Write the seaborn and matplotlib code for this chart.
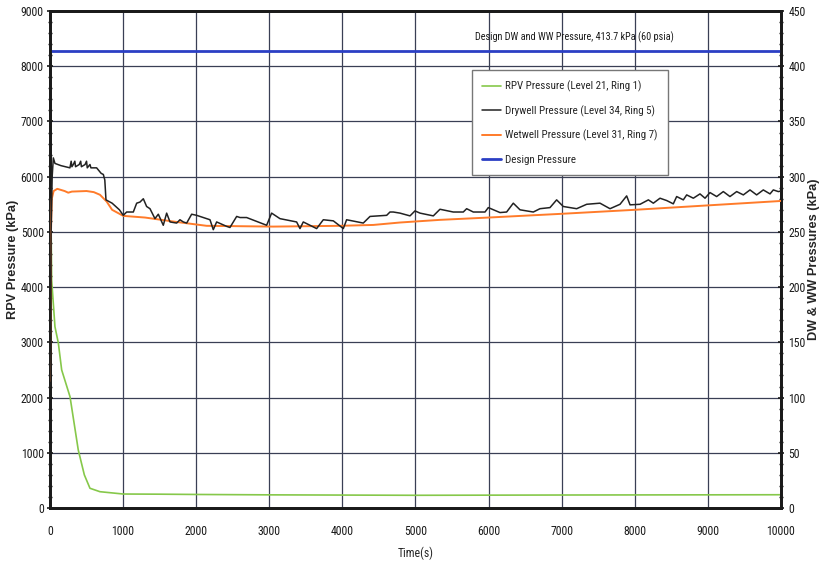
import matplotlib
matplotlib.use("Agg")
import matplotlib.pyplot as plt
from matplotlib import font_manager
import seaborn as sns
import pandas as pd
from matplotlib.ticker import MultipleLocator

# ---------------- data ----------------
rpv_t = [0, 23, 68, 114, 160, 274, 387, 470, 547, 684, 1003, 1500, 2000, 3000, 5000, 7000, 10000]
rpv_p = [7000, 4130, 3284, 2990, 2500, 2016, 1050, 600, 357, 295, 253, 250, 245, 238, 230, 235, 240]

dw_t = [0, 15, 30, 46, 68, 150, 273, 290, 300, 319, 340, 350, 400, 420, 430, 480, 500, 510, 547, 560,
        638, 700, 730, 750, 766, 850, 950, 1003, 1049, 1140, 1186, 1231, 1277, 1322, 1368, 1436, 1482,
        1550, 1596, 1642, 1733, 1778, 1824, 1870, 1938, 2006, 2189, 2234, 2280, 2417, 2462, 2554, 2600,
        2690, 2964, 3032, 3146, 3374, 3420, 3465, 3648, 3739, 3876, 4013, 4058, 4286, 4378, 4606, 4651,
        4697, 4788, 4925, 4993, 5062, 5244, 5335, 5517, 5654, 5700, 5791, 5951, 5996, 6156, 6247, 6338,
        6430, 6612, 6703, 6840, 6931, 7022, 7205, 7342, 7524, 7661, 7798, 7889, 7935, 8072, 8186, 8254,
        8345, 8436, 8527, 8573, 8664, 8710, 8801, 8892, 8961, 9029, 9120, 9211, 9302, 9394, 9485, 9576,
        9667, 9758, 9850, 9895, 9964, 10000]
dw_p = [110, 250, 300, 317, 312, 310, 308, 314, 309, 311, 314, 309, 311, 314, 309, 311, 314, 308, 311, 308,
        308, 303, 302, 297, 279, 276, 270, 265, 268, 268, 276, 277, 280, 273, 271, 262, 266,
        256, 267, 259, 258, 261, 259, 258, 266, 265, 261, 252, 259, 255, 254, 264, 263,
        263, 256, 267, 262, 259, 253, 259, 253, 261, 260, 253, 261, 258, 264, 265, 268,
        268, 267, 264.5, 269, 267, 264.5, 270.5, 268, 268, 271, 268, 268, 272, 267.5, 268, 276,
        270, 268, 271, 272, 279, 273, 271, 275, 276, 271, 275, 282.6, 274.5, 275, 279, 276,
        280.5, 278.4, 275.4, 282, 279, 283.5, 280.5, 284.4, 280.5, 285.6, 282, 286.5, 282, 286.5, 283.5, 288,
        283.5, 288, 284.4, 288, 286.5, 287]

ww_t = [0, 10, 25, 50, 100, 200, 250, 300, 500, 600, 684, 775, 850, 1003, 1300, 1687, 2143, 3055,
        3967, 4423, 4788, 5335, 6000, 6976, 8000, 9000, 10000]
ww_p = [115, 240, 280, 287, 289, 287, 285.5, 286.5, 287, 286, 283.6, 277.5, 270, 264.5, 263, 259.4,
        255.5, 254.8, 255.5, 256.3, 258.5, 260.9, 263, 266.3, 270, 274, 278]

design_t = [0, 10000]
design_p = [413.7, 413.7]

labels = ["RPV Pressure (Level 21, Ring 1)", "Drywell Pressure (Level 34, Ring 5)",
          "Wetwell Pressure (Level 31, Ring 7)", "Design Pressure"]

# ---------------- style ----------------
sns.set_style("white")
available = {f.name for f in font_manager.fontManager.ttflist}
narrow = None
for cand in ['Liberation Sans Narrow', 'DejaVu Sans Condensed', 'Roboto Condensed', 'Open Sans Condensed', 'Arial Narrow']:
    if cand in available:
        narrow = cand
        break
fam = ([narrow] if narrow else []) + ['Liberation Sans', 'DejaVu Sans']
plt.rcParams['font.family'] = fam
scale = 1.0 if narrow else 0.82

fig = plt.figure(figsize=(8.22, 5.65), dpi=100)
ax = fig.add_axes([0.0608, 0.1009, 0.8893, 0.8796])
ax2 = ax.twinx()

c_rpv = "#86c84a"
c_dw = "#222222"
c_ww = "#ff7b2a"
c_des = "#2b3fc4"

rpv_df = pd.DataFrame({"t": rpv_t, "p": rpv_p})
dw_df = pd.DataFrame({"t": dw_t, "p": dw_p})
ww_df = pd.DataFrame({"t": ww_t, "p": ww_p})
des_df = pd.DataFrame({"t": design_t, "p": design_p})

sns.lineplot(data=rpv_df, x="t", y="p", ax=ax, color=c_rpv, lw=1.2, label=labels[0], legend=False)
sns.lineplot(data=ww_df, x="t", y="p", ax=ax2, color=c_ww, lw=1.4, label=labels[2], legend=False, zorder=3)
sns.lineplot(data=dw_df, x="t", y="p", ax=ax2, color=c_dw, lw=1.1, label=labels[1], legend=False, zorder=4)
sns.lineplot(data=des_df, x="t", y="p", ax=ax2, color=c_des, lw=2.0, label=labels[3], legend=False)

ax.set_xlim(0, 10000)
ax.set_ylim(0, 9000)
ax2.set_ylim(0, 450)

ax.xaxis.set_major_locator(MultipleLocator(1000))
ax.xaxis.set_minor_locator(MultipleLocator(200))
ax.yaxis.set_major_locator(MultipleLocator(1000))
ax.yaxis.set_minor_locator(MultipleLocator(200))
ax2.yaxis.set_major_locator(MultipleLocator(50))
ax2.yaxis.set_minor_locator(MultipleLocator(10))

ax.grid(True, which="major", color="#3a3f55", lw=0.9)
ax.set_axisbelow(True)

for a in (ax, ax2):
    for s in a.spines.values():
        s.set_color("#1a1a1a")
        s.set_linewidth(2.0)
tick_fs = 8.5 * scale
ax.tick_params(axis="both", which="major", length=5, width=1.2, direction="inout", labelsize=tick_fs, colors="#1a1a1a")
ax.tick_params(axis="both", which="minor", length=3, width=1.0, direction="inout", colors="#1a1a1a")
ax2.tick_params(axis="y", which="major", length=5, width=1.2, direction="inout", labelsize=tick_fs, colors="#1a1a1a", pad=3)
ax2.tick_params(axis="y", which="minor", length=3, width=1.0, direction="inout", colors="#1a1a1a")
ax.tick_params(axis="y", pad=2)
ax.tick_params(axis="x", pad=10)

ax.set_xlabel("Time(s)", fontsize=8.5 * scale, labelpad=6)
ax.set_ylabel("RPV Pressure (kPa)", fontsize=9.2, fontweight="bold", family=['Liberation Sans', 'DejaVu Sans'])
ax2.set_ylabel("DW & WW Pressures (kPa)", fontsize=9.2, fontweight="bold", family=['Liberation Sans', 'DejaVu Sans'])
ax.yaxis.set_label_coords(-0.043, 0.5)
ax2.yaxis.set_label_coords(1.037, 0.5)

ax2.text(0.581, 0.948, "Design DW and WW Pressure, 413.7 kPa (60 psia)", transform=ax2.transAxes,
         fontsize=7.3 * scale, ha="left", va="center", color="#1a1a1a")

h1, l1 = ax.get_legend_handles_labels()
h2, l2 = ax2.get_legend_handles_labels()
hd = dict(zip(l1 + l2, h1 + h2))
leg = ax2.legend([hd[l] for l in labels], labels, loc="upper left", bbox_to_anchor=(0.577, 0.881),
                 prop={'size': 7.9 * scale},
                 frameon=True, fancybox=False, edgecolor="#777777", framealpha=1,
                 handlelength=1.7, borderpad=0.95, labelspacing=1.2, handletextpad=0.4, borderaxespad=0)
leg.get_frame().set_linewidth(1.0)

fig.savefig("out.png", dpi=100)
